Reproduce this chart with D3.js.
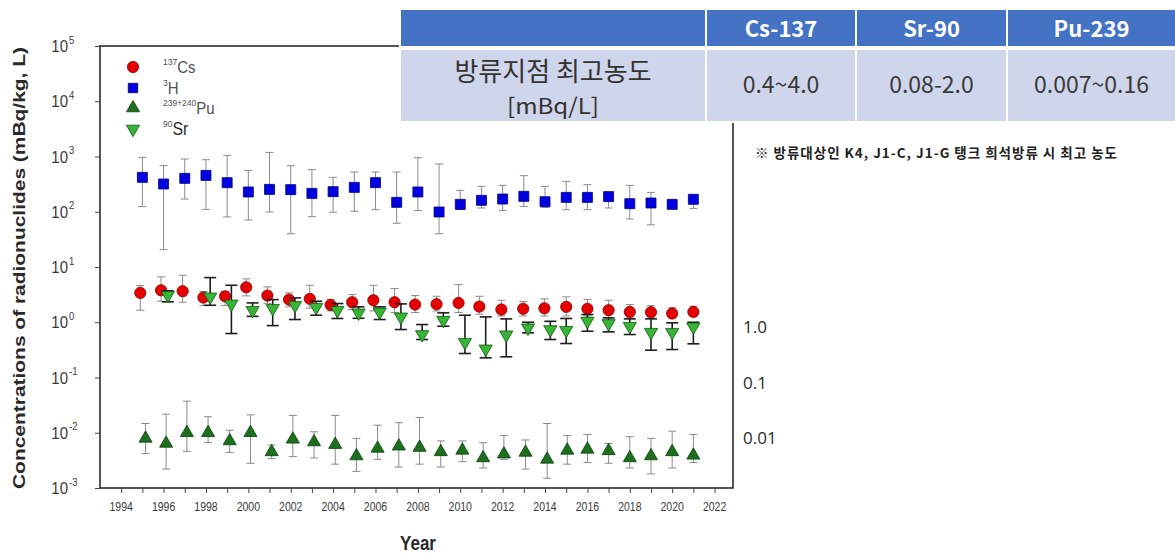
<!DOCTYPE html>
<html>
<head>
<meta charset="utf-8">
<script src="https://cdn.jsdelivr.net/npm/d3@7"></script>
<style>
  html, body { margin: 0; padding: 0; background: #fff; }
  svg { display: block; }
</style>
</head>
<body>
<svg id="chart" width="1175" height="553"></svg>
<script>
// ---- measurement years per series ----
const h3Years = [1995,1996,1997,1998,1999,2000,2001,2002,2003,2004,2005,2006,2007,2008,2009,2010,2011,2012,2013,2014,2015,2016,2017,2018,2019,2020,2021];
const h3Mean  = [419,318,402,455,336,228,254,251,215,231,276,336,148,228,99,136,161,170,190,152,182,182,188,140,144,136,168];
const h3Low   = [124,20.6,170,110,80.5,71,99,40,81.5,98,102,109,62,105,40,110,117,106,125,120,109,109,117,74,58,null,115];
const h3High  = [963,682,901,875,1047,561,1186,682,577,419,524,524,524,951,732,244,288,300,450,288,355,309,224,300,224,null,201];

const csYears = [1994.9,1995.88,1996.9,1997.88,1998.9,1999.9,2000.9,2001.92,2002.9,2003.88,2004.9,2005.9,2006.9,2007.87,2008.88,2009.92,2010.9,2011.94,2012.97,2013.97,2015,2016,2017,2018,2019,2020,2021];
const csMean  = [3.40,3.79,3.64,2.80,2.95,4.29,3.04,2.57,2.65,2.06,2.30,2.50,2.30,2.09,2.12,2.24,1.92,1.70,1.75,1.79,1.90,1.75,1.65,1.54,1.52,1.44,1.54];
const csLow   = [1.65,2.4,2.3,2.0,2.0,3.0,2.2,1.9,1.8,1.6,1.7,1.6,1.5,1.5,1.6,1.5,1.4,1.3,1.3,1.3,1.3,1.3,1.2,1.2,1.2,1.2,1.3];
const csHigh  = [4.61,6.62,7.08,3.6,3.6,6.09,4.37,3.4,4.67,2.6,3.17,4.67,4.07,3.04,2.95,4.81,2.95,2.5,2.37,2.65,2.88,2.57,2.5,2.09,2.0,1.84,1.95];

const puYears = [1995.15,1996.12,1997.1,1998.1,1999.12,2000.1,2001.1,2002.1,2003.1,2004.1,2005.1,2006.1,2007.1,2008.08,2009.08,2010.1,2011.08,2012.06,2013.08,2014.1,2015.05,2016,2017,2018,2019,2020,2021];
const puMean  = [0.0079,0.0064,0.0100,0.0100,0.0071,0.0100,0.0045,0.0076,0.0068,0.0061,0.0038,0.0052,0.0057,0.0054,0.0045,0.0048,0.0035,0.0041,0.0044,0.0033,0.0048,0.0050,0.0047,0.0035,0.0038,0.0045,0.0039];
const puLow   = [0.0042,0.0022,0.0046,0.0067,0.0044,0.0028,0.0034,0.0037,0.0035,0.0027,0.0020,0.0033,0.0024,0.0027,0.0024,0.0030,0.0023,0.0033,0.0022,0.0015,0.0027,0.0029,0.0028,0.0023,0.0018,0.0023,0.0029];
const puHigh  = [0.0147,0.0217,0.0373,0.0195,0.0111,0.0211,0.0060,0.0206,0.0104,0.0206,0.0079,0.0137,0.0152,0.0189,0.0071,0.0071,0.0066,0.0089,0.0074,0.0147,0.0089,0.0093,0.0064,0.0085,0.0079,0.0107,0.0093];

const srYears = [1996.2,1998.2,1999.2,2000.2,2001.15,2002.2,2003.2,2004.2,2005.2,2006.2,2007.2,2008.2,2009.2,2010.22,2011.2,2012.17,2013.2,2014.25,2015,2016,2017,2018,2019,2020,2021];
const srMean  = [3.08,2.88,2.15,1.65,1.79,2.03,1.87,1.65,1.48,1.54,1.25,0.60,1.09,0.435,0.330,0.592,0.792,0.738,0.717,1.05,0.95,0.847,0.66,0.66,0.826];
const srLow   = [2.34,2.03,0.625,1.28,0.87,1.12,1.34,1.17,1.18,1.12,0.738,0.487,0.847,0.272,0.227,0.237,0.643,0.487,0.412,0.687,0.67,0.60,0.312,0.321,0.407];
const srHigh  = [3.70,6.43,4.67,2.24,2.57,2.76,2.40,2.18,1.90,1.90,2.15,0.909,1.48,1.34,1.25,1.15,1.0,1.04,1.17,1.38,1.20,1.15,1.15,0.976,1.0];

// ---- axis ticks ----
const yearTicks = d3.range(1994, 2023);
const yearLabels = d3.range(1994, 2023, 2);
const decadeExps = [-3,-2,-1,0,1,2,3,4,5];

// ---- legend ----
const legendSup  = ["137", "3", "239+240", "90"];
const legendMain = ["Cs", "H", "Pu", "Sr"];

// ---- discharge-point table ----
const tableHeaders = ["", "Cs-137", "Sr-90", "Pu-239"];
const rowLabel = ["방류지점 최고농도", "[mBq/L]"];
const rowValues = ["0.4~4.0", "0.08-2.0", "0.007~0.16"];
const noteText = "※ 방류대상인 K4, J1-C, J1-G 탱크 희석방류 시 최고 농도";

// ---- reference levels beside the plot ----
const refLevels = [1, 0.1, 0.01];
const refLabels = ["1.0", "0.1", "0.01"];

// ================= drawing =================
const svg = d3.select("#chart");
const W = 1175, H = 553;
svg.append("rect").attr("width", W).attr("height", H).attr("fill", "#fff");

const plot = { left: 100, right: 733, top: 46, bottom: 488 };
const x = d3.scaleLinear().domain([1993, 2022.87]).range([plot.left, plot.right]);
const y = d3.scaleLog().domain([1e-3, 1e5]).range([plot.bottom, plot.top]);

const FONT = "Liberation Sans, Arial, Helvetica, sans-serif";
const KFONT = "'Noto Sans CJK KR', 'Noto Sans', sans-serif";

// text that is slightly taller than its font (vertical stretch)
function stretchedText(parent, tx, ty, sy) {
  return parent.append("g").attr("transform", `translate(${tx},${ty}) scale(1,${sy})`).append("text");
}

// frame
svg.append("rect")
  .attr("x", plot.left).attr("y", plot.top)
  .attr("width", plot.right - plot.left).attr("height", plot.bottom - plot.top)
  .attr("fill", "none").attr("stroke", "#2b2b2b").attr("stroke-width", 1.6);

// x axis ticks (every year)
const xAxis = d3.axisBottom(x).tickValues(yearTicks).tickSize(5).tickSizeOuter(0).tickFormat("");
const gx = svg.append("g").attr("transform", `translate(0,${plot.bottom})`).call(xAxis);
gx.select(".domain").remove();
gx.selectAll(".tick line").attr("stroke", "#444").attr("stroke-width", 1);

yearLabels.forEach(v => {
  stretchedText(svg, x(v), 510.5, 1.2)
    .attr("text-anchor", "middle")
    .attr("font-family", FONT).attr("font-size", 10.5)
    .attr("fill", "#3a3a3a")
    .text(v);
});

// y axis ticks (decades)
const yAxis = d3.axisLeft(y).tickValues(decadeExps.map(e => Math.pow(10, e))).tickSize(5).tickSizeOuter(0).tickFormat("");
const gy = svg.append("g").attr("transform", `translate(${plot.left},0)`).call(yAxis);
gy.select(".domain").remove();
gy.selectAll(".tick line").attr("stroke", "#444").attr("stroke-width", 1);

decadeExps.forEach(e => {
  const ty = y(Math.pow(10, e));
  stretchedText(svg, 68, ty + 6, 1.15)
    .attr("text-anchor", "end")
    .attr("font-family", FONT).attr("font-size", 15)
    .attr("fill", "#3a3a3a").text("10");
  stretchedText(svg, 69, ty - 2.5, 1.15)
    .attr("font-family", FONT).attr("font-size", 9.5)
    .attr("fill", "#3a3a3a").text(String(e));
});

// axis titles
svg.append("text")
  .attr("transform", `translate(25,${(plot.top + plot.bottom) / 2 + 1}) rotate(-90)`)
  .attr("text-anchor", "middle")
  .attr("font-family", FONT).attr("font-weight", "bold").attr("font-size", 17)
  .attr("textLength", 442).attr("lengthAdjust", "spacingAndGlyphs")
  .attr("fill", "#2a2a2a")
  .text("Concentrations of radionuclides (mBq/kg, L)");

stretchedText(svg, 418, 550, 1.15)
  .attr("text-anchor", "middle")
  .attr("font-family", FONT).attr("font-weight", "bold").attr("font-size", 17)
  .attr("fill", "#2a2a2a").text("Year");

// ---- error bars ----
function errorBars(xs, lo, hi, color, width, cap) {
  const g = svg.append("g");
  xs.forEach((xv, i) => {
    if (lo[i] == null || hi[i] == null) return;
    const cx = x(xv), y1 = y(hi[i]), y2 = y(lo[i]);
    g.append("line").attr("x1", cx).attr("x2", cx).attr("y1", y1).attr("y2", y2)
      .attr("stroke", color).attr("stroke-width", width);
    [y1, y2].forEach(yy => g.append("line")
      .attr("x1", cx - cap / 2).attr("x2", cx + cap / 2).attr("y1", yy).attr("y2", yy)
      .attr("stroke", color).attr("stroke-width", width));
  });
}

function markers(xs, vals, type, size, fill, stroke, rotate) {
  const sym = d3.symbol().type(type).size(size);
  svg.append("g").selectAll("path").data(vals).join("path")
    .attr("d", sym)
    .attr("transform", (d, i) => `translate(${x(xs[i])},${y(d)})${rotate ? " rotate(180)" : ""}`)
    .attr("fill", fill).attr("stroke", stroke).attr("stroke-width", 0.8);
}

const COL = {
  cs: ["#e50000", "#8a0000"],
  h3: ["#0000e0", "#00007a"],
  pu: ["#1c6f1c", "#0b3f0b"],
  sr: ["#36b536", "#155515"]
};

// tritium
errorBars(h3Years, h3Low, h3High, "#8a8a8a", 1, 8);
markers(h3Years, h3Mean, d3.symbolSquare, 100, COL.h3[0], COL.h3[1]);
// plutonium
errorBars(puYears, puLow, puHigh, "#8a8a8a", 1, 8);
markers(puYears, puMean, d3.symbolTriangle, 74, COL.pu[0], COL.pu[1]);
// caesium
errorBars(csYears, csLow, csHigh, "#8a8a8a", 1, 8);
markers(csYears, csMean, d3.symbolCircle, 100, COL.cs[0], COL.cs[1]);
// strontium
errorBars(srYears, srLow, srHigh, "#1e1e1e", 1.6, 12);
markers(srYears, srMean, d3.symbolTriangle, 76, COL.sr[0], COL.sr[1], true);

// ---- legend ----
const legendY = [67, 88, 108, 129];
const legendSym = [
  [d3.symbolCircle, 100, COL.cs, false],
  [d3.symbolSquare, 90, COL.h3, false],
  [d3.symbolTriangle, 74, COL.pu, false],
  [d3.symbolTriangle, 76, COL.sr, true]
];
legendMain.forEach((name, i) => {
  const [type, size, col, rot] = legendSym[i];
  svg.append("path")
    .attr("d", d3.symbol().type(type).size(size))
    .attr("transform", `translate(133,${legendY[i]})${rot ? " rotate(180)" : ""}`)
    .attr("fill", col[0]).attr("stroke", col[1]).attr("stroke-width", 0.8);
  const t = stretchedText(svg, 163, legendY[i] + 6, 1.1)
    .attr("font-family", FONT).attr("fill", "#505050");
  t.append("tspan").attr("font-size", 8.5).attr("dy", -7).text(legendSup[i]);
  t.append("tspan").attr("font-size", i === 3 ? 16 : 15).attr("dy", 7)
    .attr("fill", i === 3 ? "#2a2a2a" : "#505050").text(name);
});

// ---- reference levels ----
refLevels.forEach((v, i) => {
  svg.append("text")
    .attr("x", 743).attr("y", y(v) + 11)
    .attr("font-family", "'Open Sans', 'Noto Sans', sans-serif").attr("font-size", 17)
    .attr("fill", "#2a2a2a").text(refLabels[i]);
});

// ---- table ----
const tbl = svg.append("g");
const colX = [401, 707, 857, 1008, 1175];
const hdr = { top: 10, bottom: 46 };
const body = { top: 50, bottom: 121 };
tbl.append("rect").attr("x", 399).attr("y", 8).attr("width", W - 399).attr("height", 115).attr("fill", "#fff");
for (let c = 0; c < 4; c++) {
  const x0 = colX[c], x1 = colX[c + 1] - (c < 3 ? 2 : 0);
  tbl.append("rect").attr("x", x0).attr("y", hdr.top).attr("width", x1 - x0).attr("height", hdr.bottom - hdr.top)
    .attr("fill", "#4472c4");
  tbl.append("rect").attr("x", x0).attr("y", body.top).attr("width", x1 - x0).attr("height", body.bottom - body.top)
    .attr("fill", "#cfd5ea");
  const cx = (x0 + x1) / 2;
  if (tableHeaders[c]) {
    tbl.append("text").attr("x", cx).attr("y", 37).attr("text-anchor", "middle")
      .attr("font-family", KFONT).attr("font-weight", "bold").attr("font-size", 22)
      .attr("fill", "#fff").text(tableHeaders[c]);
  }
  if (c === 0) {
    tbl.append("text").attr("x", cx).attr("y", 81).attr("text-anchor", "middle")
      .attr("font-family", KFONT).attr("font-size", 26)
      .attr("fill", "#333").text(rowLabel[0]);
    tbl.append("text").attr("x", cx).attr("y", 114).attr("text-anchor", "middle")
      .attr("font-family", KFONT).attr("font-size", 22)
      .attr("textLength", 92).attr("lengthAdjust", "spacingAndGlyphs")
      .attr("fill", "#333").text(rowLabel[1]);
  } else {
    tbl.append("text").attr("x", cx).attr("y", 93).attr("text-anchor", "middle")
      .attr("font-family", KFONT).attr("font-size", 23)
      .attr("fill", "#3a3a3a").text(rowValues[c - 1]);
  }
}

// note under the table
svg.append("text")
  .attr("x", 755).attr("y", 158)
  .attr("font-family", KFONT).attr("font-weight", "bold").attr("font-size", 13.5)
  .attr("textLength", 362).attr("lengthAdjust", "spacing")
  .attr("fill", "#222").text(noteText);
</script>
</body>
</html>
